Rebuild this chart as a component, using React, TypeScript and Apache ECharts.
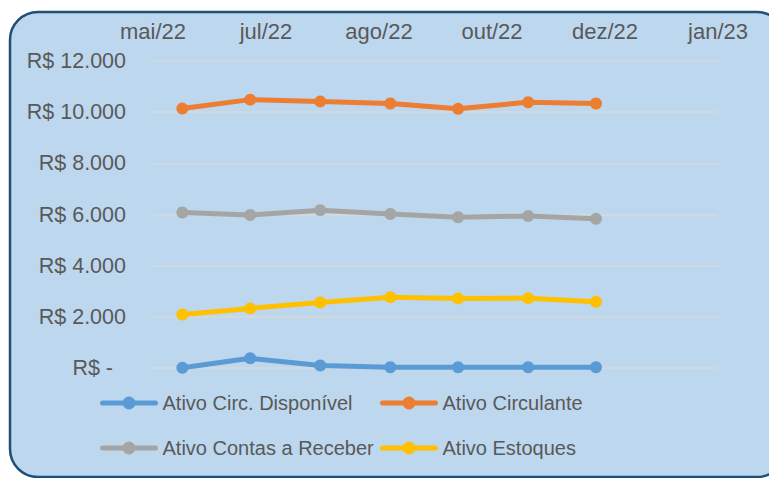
import React, { useEffect, useRef } from "react";
import * as echarts from "echarts";

const axisStartDate = "2022-05-19";
const axisSpanDays = 250;
const tickStepDays = 50;
const tickLabels = ["mai/22", "jul/22", "ago/22", "out/22", "dez/22", "jan/23"];

const monthDates = [
  "2022-06-01",
  "2022-07-01",
  "2022-08-01",
  "2022-09-01",
  "2022-10-01",
  "2022-11-01",
  "2022-12-01",
];

const seriesNames = [
  "Ativo Circ. Disponível",
  "Ativo Circulante",
  "Ativo Contas a Receber",
  "Ativo Estoques",
];

const disponivel = [10, 380, 100, 30, 30, 30, 30];
const circulante = [10140, 10490, 10420, 10340, 10130, 10390, 10340];
const contasReceber = [6080, 5980, 6170, 6020, 5890, 5940, 5830];
const estoques = [2090, 2330, 2560, 2770, 2720, 2730, 2590];

const seriesColors = ["#5B9BD5", "#ED7D31", "#A5A5A5", "#FFC000"];

const DAY = 86400000;

function dayOffset(d: string) {
  return (Date.parse(d) - Date.parse(axisStartDate)) / DAY;
}

function fmtThousands(v: number) {
  return String(Math.round(v)).replace(/\B(?=(\d{3})+(?!\d))/g, ".");
}

export default function App() {
  const ref = useRef<HTMLDivElement>(null);
  useEffect(() => {
    if (!ref.current) return;
    const chart = echarts.init(ref.current, null, { renderer: "svg" });
    const font = "Liberation Sans";
    const textColor = "#595959";
    const values = [disponivel, circulante, contasReceber, estoques];
    const legendBase = {
      orient: "vertical",
      top: 388,
      itemWidth: 53,
      itemHeight: 16,
      itemGap: 25,
      lineStyle: { width: 5, cap: "round" },
      textStyle: { color: textColor, fontSize: 20, fontFamily: font, padding: [0, 0, 0, 2] },
    };
    chart.setOption({
      animation: false,
      backgroundColor: "transparent",
      textStyle: { fontFamily: font },
      graphic: [
        {
          type: "rect",
          z: -10,
          shape: { x: 10, y: 12, width: 775, height: 465, r: 28 },
          style: { fill: "#BDD7EE", stroke: "#1F4E79", lineWidth: 2.5 },
        },
      ],
      grid: { left: 153, right: 51, top: 61, bottom: 110, containLabel: false },
      xAxis: {
        type: "value",
        position: "top",
        min: 0,
        max: axisSpanDays,
        interval: tickStepDays,
        axisLine: { show: false },
        axisTick: { show: false },
        splitLine: { show: false },
        axisLabel: {
          color: textColor,
          fontSize: 22,
          fontFamily: font,
          margin: 19,
          formatter: (v: number) => tickLabels[Math.round(v / tickStepDays)] ?? "",
        },
      },
      yAxis: {
        type: "value",
        min: 0,
        max: 12000,
        interval: 2000,
        axisLine: { show: false },
        axisTick: { show: false },
        splitLine: { lineStyle: { color: "#D9D9D9", width: 1.5 } },
        axisLabel: {
          color: textColor,
          fontSize: 21.5,
          fontFamily: font,
          margin: 27,
          formatter: (v: number) =>
            v === 0 ? "{z|R$ -}" : "R$ " + fmtThousands(v),
          rich: {
            z: {
              color: textColor,
              fontSize: 21.5,
              fontFamily: font,
              padding: [0, 13, 0, 0],
            },
          },
        },
      },
      legend: [
        { ...legendBase, data: [seriesNames[0], seriesNames[2]], left: 95 },
        { ...legendBase, data: [seriesNames[1], seriesNames[3]], left: 375 },
      ],
      series: seriesNames.map((name, i) => ({
        name,
        type: "line",
        data: monthDates.map((d, j) => [dayOffset(d), values[i][j]]),
        symbol: "circle",
        symbolSize: 12,
        color: seriesColors[i],
        lineStyle: { width: 5, color: seriesColors[i], cap: "round" },
        itemStyle: { color: seriesColors[i] },
      })),
    });
    return () => chart.dispose();
  }, []);
  return (
    <div
      ref={ref}
      style={{ position: "absolute", left: 0, top: 0, width: 769, height: 478 }}
    />
  );
}
